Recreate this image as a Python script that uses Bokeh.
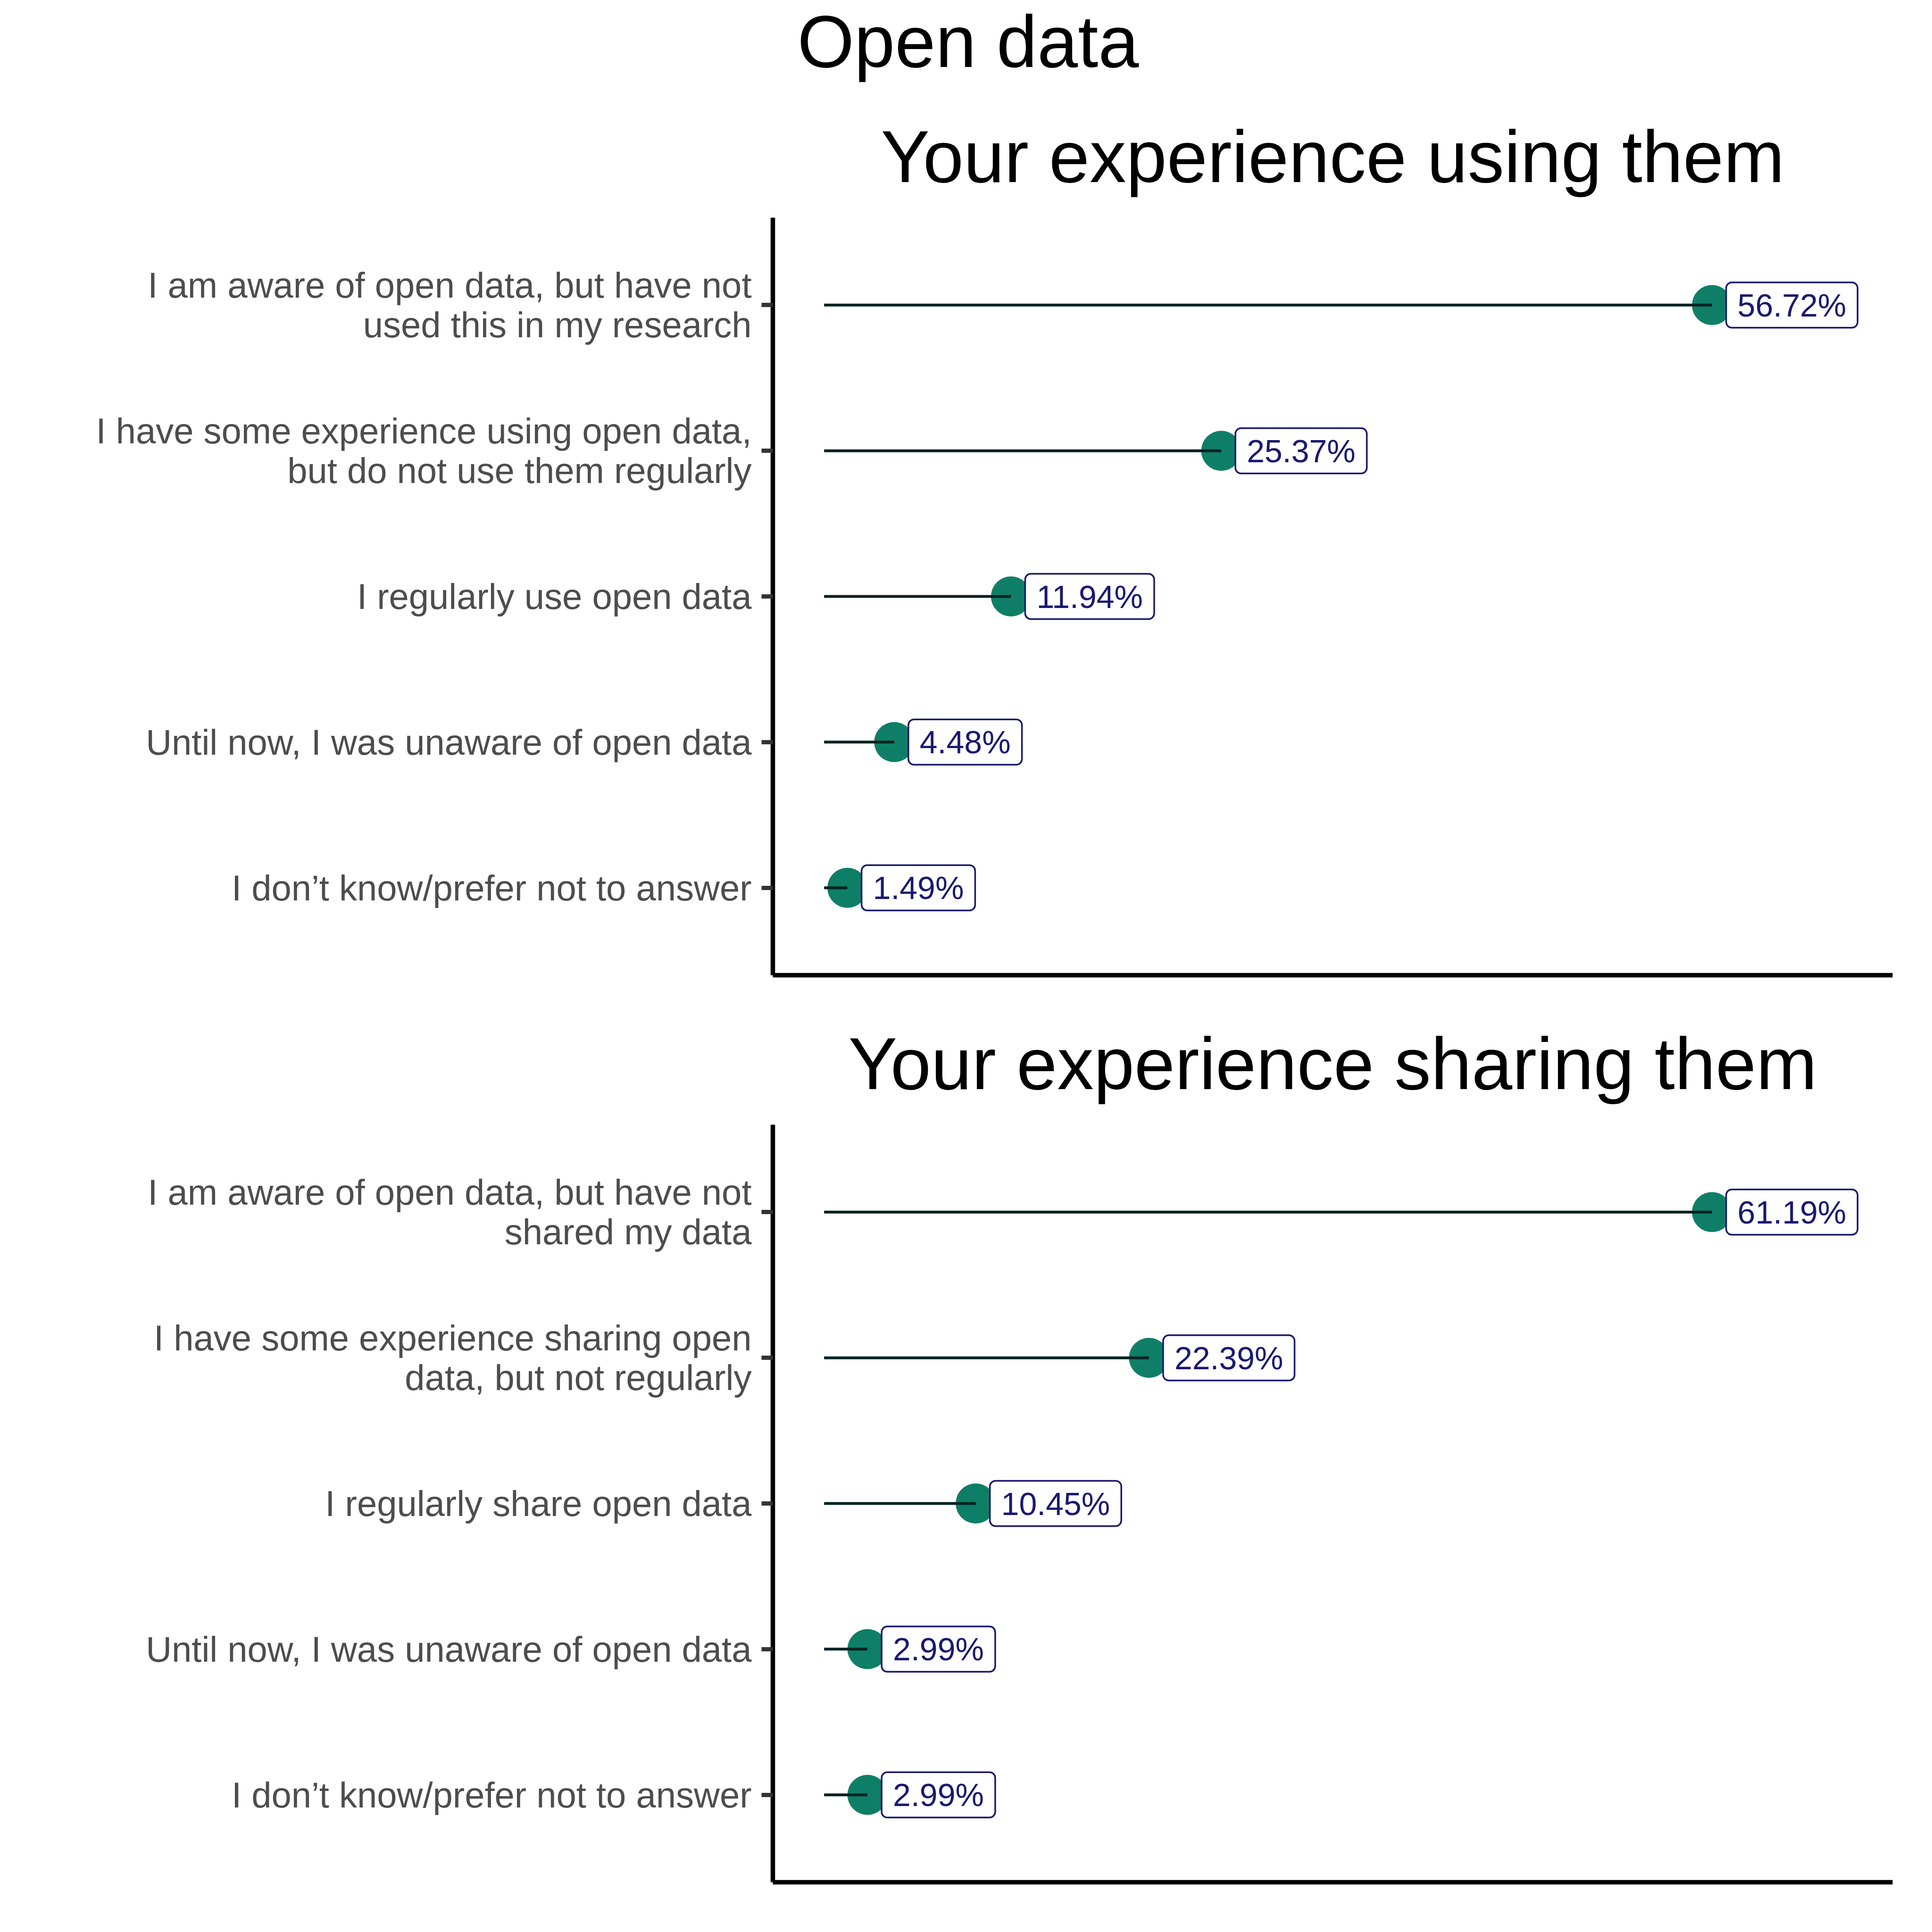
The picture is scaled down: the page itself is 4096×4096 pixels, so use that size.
from bokeh.plotting import figure
from bokeh.layouts import column
from bokeh.models import Title, FixedTicker, Range1d, ColumnDataSource, Label
from bokeh.embed import file_html
from bokeh.resources import INLINE

main_title = "Open data"
use_title = "Your experience using them"
share_title = "Your experience sharing them"

use_categories = [
    "I am aware of open data, but have not\nused this in my research",
    "I have some experience using open data,\nbut do not use them regularly",
    "I regularly use open data",
    "Until now, I was unaware of open data",
    "I don\u2019t know/prefer not to answer",
]
use_values = [56.72, 25.37, 11.94, 4.48, 1.49]

share_categories = [
    "I am aware of open data, but have not\nshared my data",
    "I have some experience sharing open\ndata, but not regularly",
    "I regularly share open data",
    "Until now, I was unaware of open data",
    "I don\u2019t know/prefer not to answer",
]
share_values = [61.19, 22.39, 10.45, 2.99, 2.99]

FONT = "Liberation Sans"
DOT = "#0E7F66"
SEG = "#012222"
NAVY = "#191970"

HEAD_H = 200
LEFT, RIGHT = 1638, 84
FRAME_W, FRAME_H = 2374, 1606


def header():
    h = figure(frame_width=FRAME_W, frame_height=HEAD_H,
               min_border_left=LEFT, min_border_right=RIGHT,
               min_border_top=0, min_border_bottom=0,
               x_range=Range1d(LEFT, LEFT + FRAME_W),
               y_range=Range1d(HEAD_H, 0),
               x_axis_location=None, y_axis_location=None,
               output_backend="svg", toolbar_location=None,
               outline_line_color=None, background_fill_color="white",
               border_fill_color="white")
    h.title = None
    h.grid.visible = False
    # overall title, left edge near canvas x=1690
    h.add_layout(Label(x=1690, y=88, text=main_title, text_align="left",
                       text_baseline="alphabetic", text_font=FONT,
                       text_font_size="155px", text_color="black"))
    return h


def panel(categories, values, subtitle, top_border, bottom_border):
    n = len(categories)
    pos = [n - i for i in range(n)]  # first category on top
    vmax = max(values)
    p = figure(
        frame_width=FRAME_W, frame_height=FRAME_H,
        min_border_left=LEFT, min_border_right=RIGHT,
        min_border_top=top_border, min_border_bottom=bottom_border,
        x_range=Range1d(-0.0577 * vmax, 1.2034 * vmax),
        y_range=Range1d(0.4, n + 0.6),
        output_backend="svg", toolbar_location=None,
        background_fill_color="white", border_fill_color="white",
        outline_line_color=None,
    )
    p.title = None
    p.xgrid.visible = False
    p.ygrid.visible = False

    src = ColumnDataSource(dict(
        y=pos, v=values, zero=[0] * n,
        lab=["%.2f%%" % v for v in values],
    ))
    p.scatter(x="v", y="y", source=src, size=85, fill_color=DOT, line_color=None)
    p.segment(x0="zero", y0="y", x1="v", y1="y", source=src,
              line_color=SEG, line_width=6)
    p.text(x="v", y="y", text="lab", source=src, x_offset=30,
           text_align="left", text_baseline="middle",
           text_font={"value": FONT}, text_font_size={"value": "68px"},
           text_color=NAVY,
           background_fill_color="white",
           border_line_color=NAVY, border_line_width=3.5,
           padding=dict(left=24, right=24, top=10, bottom=10),
           border_radius=12)

    ya = p.yaxis[0]
    ya.ticker = FixedTicker(ticks=pos)
    ya.major_label_overrides = {pv: c for pv, c in zip(pos, categories)}
    ya.major_label_text_font = FONT
    ya.major_label_text_font_size = "76px"
    ya.major_label_text_color = "#4D4D4D"
    ya.major_label_text_line_height = 0.99
    ya.major_label_standoff = 21
    ya.major_tick_out = 24
    ya.major_tick_in = 0
    ya.major_tick_line_width = 9
    ya.major_tick_line_color = "#333333"
    ya.minor_tick_line_color = None
    ya.axis_line_width = 9.5
    ya.axis_line_color = "black"

    xa = p.xaxis[0]
    xa.ticker = FixedTicker(ticks=[])
    xa.major_tick_line_color = None
    xa.minor_tick_line_color = None
    xa.major_label_text_font_size = "0px"
    xa.major_label_standoff = 0
    xa.major_tick_out = 0
    xa.axis_line_width = 9.5
    xa.axis_line_color = "black"

    p.add_layout(Title(text=subtitle, align="center", text_font=FONT,
                       text_font_size="155px", text_font_style="normal",
                       text_color="black", standoff=86), "above")
    return p


h0 = header()
p1 = panel(use_categories, use_values, use_title, 459 - HEAD_H, 30)
p2 = panel(share_categories, share_values, share_title, 287, 108)
layout = column(h0, p1, p2, spacing=0)

open("out.html", "w").write(file_html(layout, INLINE))
